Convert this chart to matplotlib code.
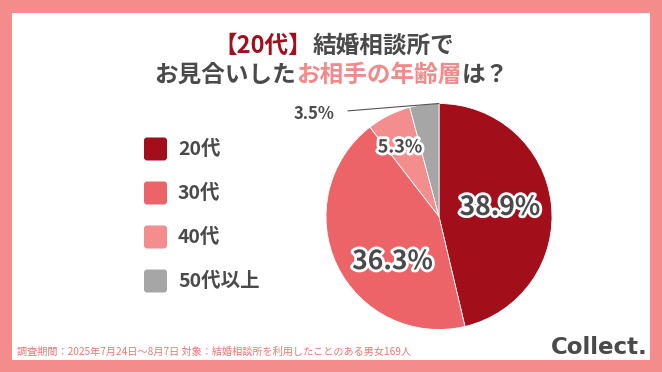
import matplotlib
matplotlib.use("Agg")
import matplotlib.pyplot as plt
from matplotlib.patches import Rectangle, FancyBboxPatch
import matplotlib.patheffects as pe

plt.rcParams['font.family'] = ['Noto Sans CJK JP', 'DejaVu Sans']

categories = ["20代", "30代", "40代", "50代以上"]
values = [38.9, 36.3, 5.3, 3.5]
colors = ["#A20F1B", "#EC6468", "#F48D8D", "#A6A6A6"]
title_line1 = [("【20代】", "#A20F1B"), ("結婚相談所で", "#4A4A4A")]
title_line2 = [("お見合いした", "#4A4A4A"), ("お相手の年齢層", "#F28A8A"), ("は？", "#4A4A4A")]
footer = "調査期間：2025年7月24日～8月7日 対象：結婚相談所を利用したことのある男女169人"
brand = "Collect."

W, H = 662, 372
fig = plt.figure(figsize=(W / 100, H / 100), dpi=100)
fig.patch.set_facecolor("#F58C8C")

bg = fig.add_axes([0, 0, 1, 1])
bg.set_xlim(0, W)
bg.set_ylim(H, 0)
bg.axis("off")
bg.add_patch(Rectangle((12, 13), 638, 347, facecolor="white", edgecolor="none"))

# title with multi-coloured segments
def colored_line(parts, y, size, xc):
    renderer = fig.canvas.get_renderer()
    texts = []
    widths = []
    for s, c in parts:
        t = bg.text(0, y, s, color=c, fontsize=size, fontweight="bold",
                    ha="left", va="center")
        bb = t.get_window_extent(renderer=renderer)
        texts.append(t)
        widths.append(bb.width)
    total = sum(widths)
    x = xc - total / 2
    for t, w in zip(texts, widths):
        t.set_x(x)
        x += w + 0.5

colored_line(title_line1, 45.5, 17, 334)
colored_line(title_line2, 75, 17, 331)

# legend
for i, (cat, col) in enumerate(zip(categories, colors)):
    yc = 149 + i * 44
    bg.add_patch(FancyBboxPatch((144, yc - 11.5), 23, 23,
                                boxstyle="round,pad=0,rounding_size=3",
                                facecolor=col, edgecolor="none"))
    bg.text(178, yc, cat, color="#4A4A4A", fontsize=14, fontweight="bold",
            ha="left", va="center")

# footer and brand
bg.text(17, 352, footer, color="#F07575", fontsize=7.3, ha="left", va="center")
bg.text(648, 347, brand, color="#4A4A4A", fontsize=16.5, fontweight="bold",
        ha="right", va="center", family=["DejaVu Sans"])

# pie
cx, cy, r = 439, 216.5, 113
pax = fig.add_axes([(cx - r) / W, (H - cy - r) / H, 2 * r / W, 2 * r / H])
wedges, _ = pax.pie(values, colors=colors, startangle=90, counterclock=False,
                    radius=1, wedgeprops=dict(linewidth=0.6, edgecolor="white"))
pax.set_xlim(-1, 1)
pax.set_ylim(-1, 1)
pax.set_aspect("equal")
pax.axis("off")

stroke = [pe.withStroke(linewidth=4, foreground="white")]
label_pos = [(0.54, 0.08), (-0.41, -0.40), (-0.345, 0.615)]
label_size = [19, 19, 13]
for i in range(3):
    x, y = label_pos[i]
    pax.text(x, y, f"{values[i]}%", color="#4A4A4A",
             fontsize=label_size[i], fontweight="bold", ha="center", va="center",
             path_effects=stroke)

# outside label for the last slice
pax.annotate(f"{values[3]}%", xy=(0.0, 1.0), xytext=(-1.11, 0.91),
             color="#4A4A4A", fontsize=12, fontweight="bold",
             ha="center", va="center",
             arrowprops=dict(arrowstyle="-", color="#555555", lw=0.8,
                             shrinkA=8, shrinkB=0),
             annotation_clip=False)

fig.savefig("out.png", dpi=100, facecolor=fig.get_facecolor())
